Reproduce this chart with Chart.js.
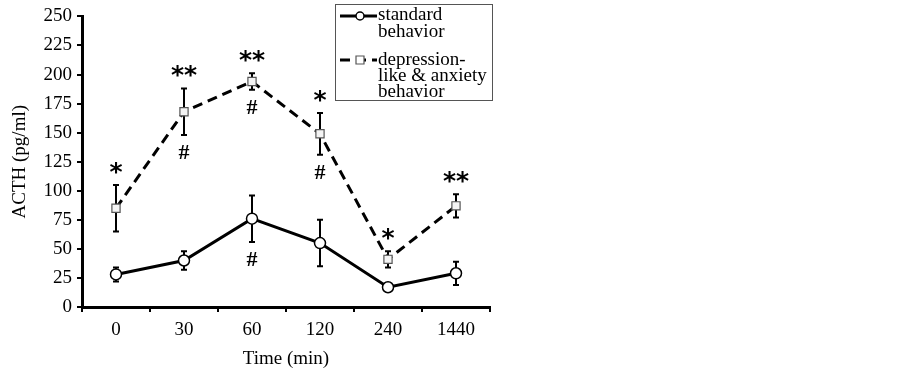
<!DOCTYPE html>
<html>
<head>
<meta charset="utf-8">
<script src="https://cdn.jsdelivr.net/npm/chart.js@4"></script>
<style>
  html, body { margin: 0; padding: 0; background: #fff; }
  #wrap { width: 902px; height: 371px; }
</style>
</head>
<body>
<div id="wrap"><canvas id="chart" width="902" height="371"></canvas></div>
<script>
const categories = ['0', '30', '60', '120', '240', '1440'];
const standardMean = [28, 40, 76, 55, 17, 29];
const standardErr = [6, 8, 20, 20, 2, 10];
const depressMean = [85, 168, 194, 149, 41, 87];
const depressErr = [20, 20, 7, 18, 7, 10];
const standardAbove = ['', '', '', '', '', ''];
const standardBelow = ['', '', '#', '', '', ''];
const depressAbove = ['*', '**', '**', '*', '*', '**'];
const depressBelow = ['', '#', '#', '#', '', ''];
const legendLines = [['standard', 'behavior'], ['depression-', 'like & anxiety', 'behavior']];

const SERIF = '"Liberation Serif", "Times New Roman", serif';

// error bars + significance marks
const marks = {
  id: 'marks',
  beforeDatasetsDraw(chart) {
    const { ctx, scales: { y } } = chart;
    ctx.save();
    ctx.strokeStyle = '#000';
    ctx.lineWidth = 2;
    chart.data.datasets.forEach((ds, di) => {
      chart.getDatasetMeta(di).data.forEach((pt, i) => {
        const top = y.getPixelForValue(ds.data[i] + ds.err[i]);
        const bot = y.getPixelForValue(ds.data[i] - ds.err[i]);
        ctx.beginPath();
        ctx.moveTo(pt.x, top); ctx.lineTo(pt.x, bot);
        ctx.moveTo(pt.x - 3, top); ctx.lineTo(pt.x + 3, top);
        ctx.moveTo(pt.x - 3, bot); ctx.lineTo(pt.x + 3, bot);
        ctx.stroke();
      });
    });
    ctx.restore();
  },
  afterDatasetsDraw(chart) {
    const { ctx, scales: { y } } = chart;
    ctx.save();
    ctx.fillStyle = '#000';
    ctx.textAlign = 'center';
    chart.data.datasets.forEach((ds, di) => {
      chart.getDatasetMeta(di).data.forEach((pt, i) => {
        const top = y.getPixelForValue(ds.data[i] + ds.err[i]);
        const bot = y.getPixelForValue(ds.data[i] - ds.err[i]);
        if (ds.above[i]) {
          ctx.font = 'bold 25px "DejaVu Sans", sans-serif';
          ctx.textBaseline = 'alphabetic';
          ctx.fillText(ds.above[i], pt.x, top - 5);
        }
        if (ds.below[i]) {
          ctx.font = 'bold 22px ' + SERIF;
          ctx.textBaseline = 'alphabetic';
          ctx.fillText(ds.below[i], pt.x, bot + 24);
        }
      });
    });
    ctx.restore();
  },
  afterDraw(chart) {
    const { ctx } = chart;
    ctx.save();
    ctx.strokeStyle = '#555';
    ctx.lineWidth = 1;
    ctx.strokeRect(335.5, 4.5, 157, 96);
    const rows = [[16, [20, 36.5]], [60, [65, 81, 97]]];
    ctx.font = '19px ' + SERIF;
    ctx.fillStyle = '#000';
    ctx.textAlign = 'left';
    ctx.textBaseline = 'alphabetic';
    chart.data.datasets.forEach((ds, di) => {
      const [ly, bases] = rows[di];
      ctx.strokeStyle = '#000';
      ctx.lineWidth = 3;
      ctx.setLineDash(ds.borderDash || []);
      ctx.beginPath();
      ctx.moveTo(340, ly); ctx.lineTo(377, ly);
      ctx.stroke();
      ctx.setLineDash([]);
      ctx.fillStyle = '#fff';
      ctx.strokeStyle = ds.pointBorderColor;
      ctx.lineWidth = ds.pointBorderWidth;
      ctx.beginPath();
      if (ds.pointStyle === 'rect') {
        ctx.rect(356, ly - 4, 8, 8);
      } else {
        ctx.arc(360, ly, 4, 0, Math.PI * 2);
      }
      ctx.fill(); ctx.stroke();
      ctx.fillStyle = '#000';
      ds.legend.forEach((t, k) => ctx.fillText(t, 378, bases[k]));
    });
    ctx.restore();
  }
};

new Chart(document.getElementById('chart'), {
  type: 'line',
  data: {
    labels: categories,
    datasets: [
      {
        label: 'standard behavior',
        data: standardMean, err: standardErr, above: standardAbove, below: standardBelow,
        legend: legendLines[0],
        borderColor: '#000', borderWidth: 3,
        pointStyle: 'circle', pointRadius: 5.5,
        pointBackgroundColor: '#fff', pointBorderColor: '#000', pointBorderWidth: 1.5
      },
      {
        label: 'depression-like & anxiety behavior',
        data: depressMean, err: depressErr, above: depressAbove, below: depressBelow,
        legend: legendLines[1],
        borderColor: '#000', borderWidth: 3, borderDash: [10, 6],
        pointStyle: 'rect', pointRadius: 5.8,
        pointBackgroundColor: '#f4f4f4', pointBorderColor: '#555', pointBorderWidth: 1.2
      }
    ]
  },
  options: {
    responsive: false,
    animation: false,
    layout: { padding: { top: 14, right: 412, left: 0, bottom: 0 } },
    plugins: { legend: { display: false }, tooltip: { enabled: false } },
    scales: {
      x: {
        offset: true,
        grid: { display: true, offset: true, drawOnChartArea: false, drawTicks: true, tickLength: 5, color: '#000', lineWidth: 2 },
        border: { display: true, color: '#000', width: 3 },
        ticks: { color: '#000', font: { family: SERIF, size: 19 }, padding: 7, maxRotation: 0 },
        title: { display: true, text: 'Time (min)', color: '#000', font: { family: SERIF, size: 19 }, padding: { top: 1, bottom: 1 } },
        afterFit(s) { s.height = 64; }
      },
      y: {
        min: 0, max: 250,
        grid: { display: true, drawOnChartArea: false, drawTicks: true, tickLength: 5, color: '#000', lineWidth: 2 },
        border: { display: true, color: '#000', width: 3 },
        ticks: { stepSize: 25, color: '#000', font: { family: SERIF, size: 19 }, padding: 5 },
        title: { display: true, text: 'ACTH (pg/ml)', color: '#000', font: { family: SERIF, size: 19 }, padding: { top: 9, bottom: 0 } },
        afterFit(s) { s.width = 82; }
      }
    }
  },
  plugins: [marks]
});
</script>
</body>
</html>
